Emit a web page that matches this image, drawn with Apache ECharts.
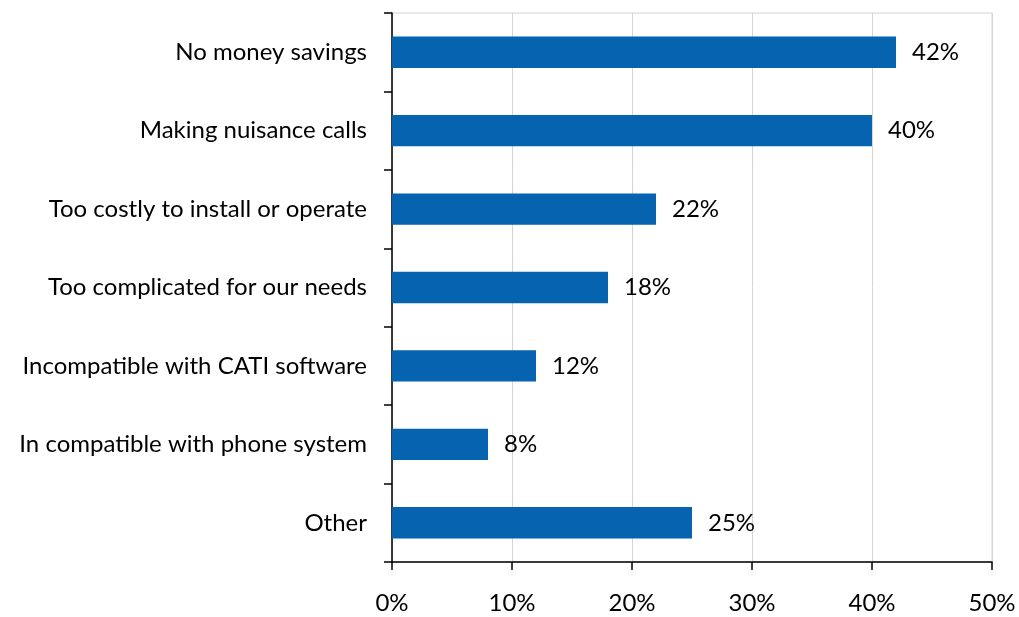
<!DOCTYPE html>
<html>
<head>
<meta charset="utf-8">
<script src="https://cdn.jsdelivr.net/npm/echarts@6/dist/echarts.min.js"></script>
<style>
  html, body { margin: 0; padding: 0; background: #fff; }
  #chart { width: 1019px; height: 617px; }
</style>
</head>
<body>
<div id="chart"></div>
<script>
// Reasons given for not using the system (share of respondents, %)
const categories = [
  'No money savings',
  'Making nuisance calls',
  'Too costly to install or operate',
  'Too complicated for our needs',
  'Incompatible with CATI software',
  'In compatible with phone system',
  'Other'
];
const values = [42, 40, 22, 18, 12, 8, 25];
const xTicks = [0, 10, 20, 30, 40, 50];

const FONT = 'Lato, "Open Sans", sans-serif';
const chart = echarts.init(document.getElementById('chart'));

chart.setOption({
  animation: false,
  grid: {
    left: 392, right: 27, top: 13, bottom: 55,
    show: true, borderColor: '#d4d4d4', borderWidth: 1
  },
  xAxis: {
    type: 'value',
    min: xTicks[0], max: xTicks[xTicks.length - 1], interval: 10,
    axisLine: { show: true, lineStyle: { color: '#000', width: 1.5 } },
    axisTick: { show: true, length: 8, lineStyle: { color: '#000', width: 1.5 } },
    splitLine: { show: true, lineStyle: { color: '#d4d4d4', width: 1 } },
    axisLabel: { color: '#000', fontFamily: FONT, fontSize: 24, margin: 29, formatter: '{value}%' }
  },
  yAxis: {
    type: 'category',
    inverse: true,
    data: categories,
    axisLine: { show: true, lineStyle: { color: '#000', width: 1.5 } },
    axisTick: { show: true, length: 8, lineStyle: { color: '#000', width: 1.5 } },
    axisLabel: { color: '#000', fontFamily: FONT, fontSize: 24, margin: 25, padding: [6, 0, 0, 0] }
  },
  series: [{
    type: 'bar',
    data: values,
    barWidth: '40%',
    itemStyle: { color: '#0563b0' },
    label: {
      show: true, position: 'right', distance: 16,
      color: '#000', fontFamily: FONT, fontSize: 24,
      padding: [6, 0, 0, 0],
      formatter: '{c}%'
    }
  }]
});
</script>
</body>
</html>
